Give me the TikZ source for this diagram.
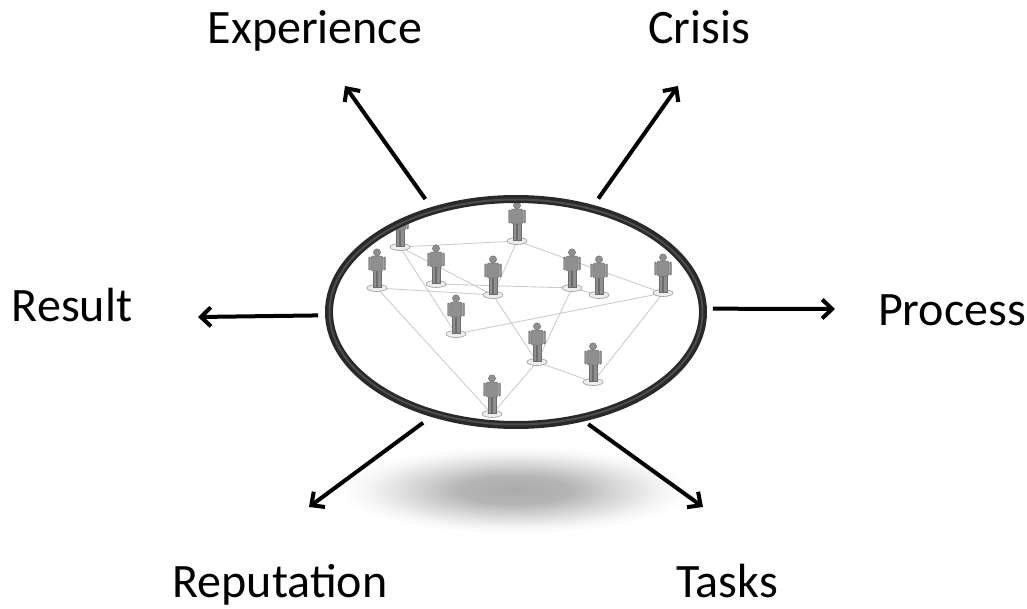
\documentclass[tikz,border=0pt]{standalone}
\usepackage{fontspec}
\setmainfont{Carlito}
\usetikzlibrary{arrows.meta,shapes.geometric}
\pgfdeclareradialshading{shadowfade}{\pgfpoint{0bp}{0bp}}{color(0bp)=(black!33); color(8bp)=(black!29); color(15bp)=(black!15); color(21bp)=(black!4); color(25bp)=(white); color(50bp)=(white)}

\begin{document}
\begin{tikzpicture}
    [x=1pt,y=-1pt,
    hub/.style={
      ellipse,
      draw=black!84,
      line width=8,
      minimum width=374,
      minimum height=226,
      inner sep=0
    },
    term/.style={
      anchor=base,
      inner sep=0,
      font=\fontsize{48}{58}\selectfont
    },
    line/.style={
      draw,
      line width=4,
      -{Straight Barb[length=10pt,width=19pt]}
    },
    link/.style={
      draw=black!20,
      line width=0.9
    },
    body/.style={
      fill=black!44,
      draw=black!58,
      line width=0.4
    },
    person/.pic={
      \fill[black!7] (0,0) ellipse [x radius=10, y radius=3.5];
      \draw[black!40, line width=0.6] (0,0) ellipse [x radius=10, y radius=3.5];
      \path[body] (-4,-1) rectangle (-0.5,-18);
      \path[body] (0.5,-1) rectangle (4,-18);
      \path[body, rounded corners=1.5] (-6,-17) rectangle (6,-32);
      \path[body, rounded corners=1] (-8.5,-18) rectangle (-6.5,-31);
      \path[body, rounded corners=1] (6.5,-18) rectangle (8.5,-31);
      \path[body] (0,-35.6) circle (3.6);
    }
  ]
    \useasboundingbox (0,0) rectangle (1027,609);
    % shadow under the ring
    \shade[shading=shadowfade] (515,490) ellipse [x radius=175, y radius=44];
    % the network
    \coordinate (pA) at (400,247);
    \coordinate (pB) at (517,241);
    \coordinate (pC) at (377,288);
    \coordinate (pD) at (436,284);
    \coordinate (pE) at (493,295);
    \coordinate (pF) at (572,288);
    \coordinate (pG) at (599,295);
    \coordinate (pH) at (663,293);
    \coordinate (pI) at (456,334);
    \coordinate (pJ) at (537,362);
    \coordinate (pK) at (593,382);
    \coordinate (pL) at (492,414);
    \begin{scope}
      \clip (516,312) ellipse [x radius=187, y radius=113];
      \foreach \a/\b in {pA/pB,pA/pE,pA/pI,pB/pE,pB/pH,pC/pE,pC/pL,pD/pF,
                         pF/pG,pE/pJ,pF/pJ,pI/pH,pJ/pK,pJ/pL,pK/pH}
        \path[link] (\a) -- (\b);
      \foreach \p in {pA,pB,pC,pD,pE,pF,pG,pH,pI,pJ,pK,pL}
        \pic at (\p) {person};
    \end{scope}
    \node[hub] (ring) at (516,312) {};
    \draw[black!70, line width=2] (516,312) ellipse [x radius=186.5, y radius=112.5];
    % labels
    \node[term] (experience) at (315,44) {Experience};
    \node[term] (crisis) at (699,44) {Crisis};
    \node[term] (result) at (72,322) {Result};
    \node[term] (process) at (952,325) {Process};
    \node[term] (reputation) at (280,597) {Reputation};
    \node[term] (tasks) at (727,597) {Tasks};
    \coordinate (expTip) at (345,86);
    \coordinate (criTip) at (678,86);
    \coordinate (resTip) at (198,317);
    \coordinate (proTip) at (835,309);
    \coordinate (repTip) at (309,507);
    \coordinate (tasTip) at (703,507);
    \draw[line, shorten <=10] (ring.129) -- (expTip);
    \draw[line, shorten <=8] (ring.54) -- (criTip);
    \draw[line, shorten <=7] (ring.181.5) -- (resTip);
    \draw[line, shorten <=6] (ring.1) -- (proTip);
    \draw[line, shorten <=10] (ring.231) -- (repTip);
    \draw[line, shorten <=5] (ring.302) -- (tasTip);
\end{tikzpicture}
\end{document}
